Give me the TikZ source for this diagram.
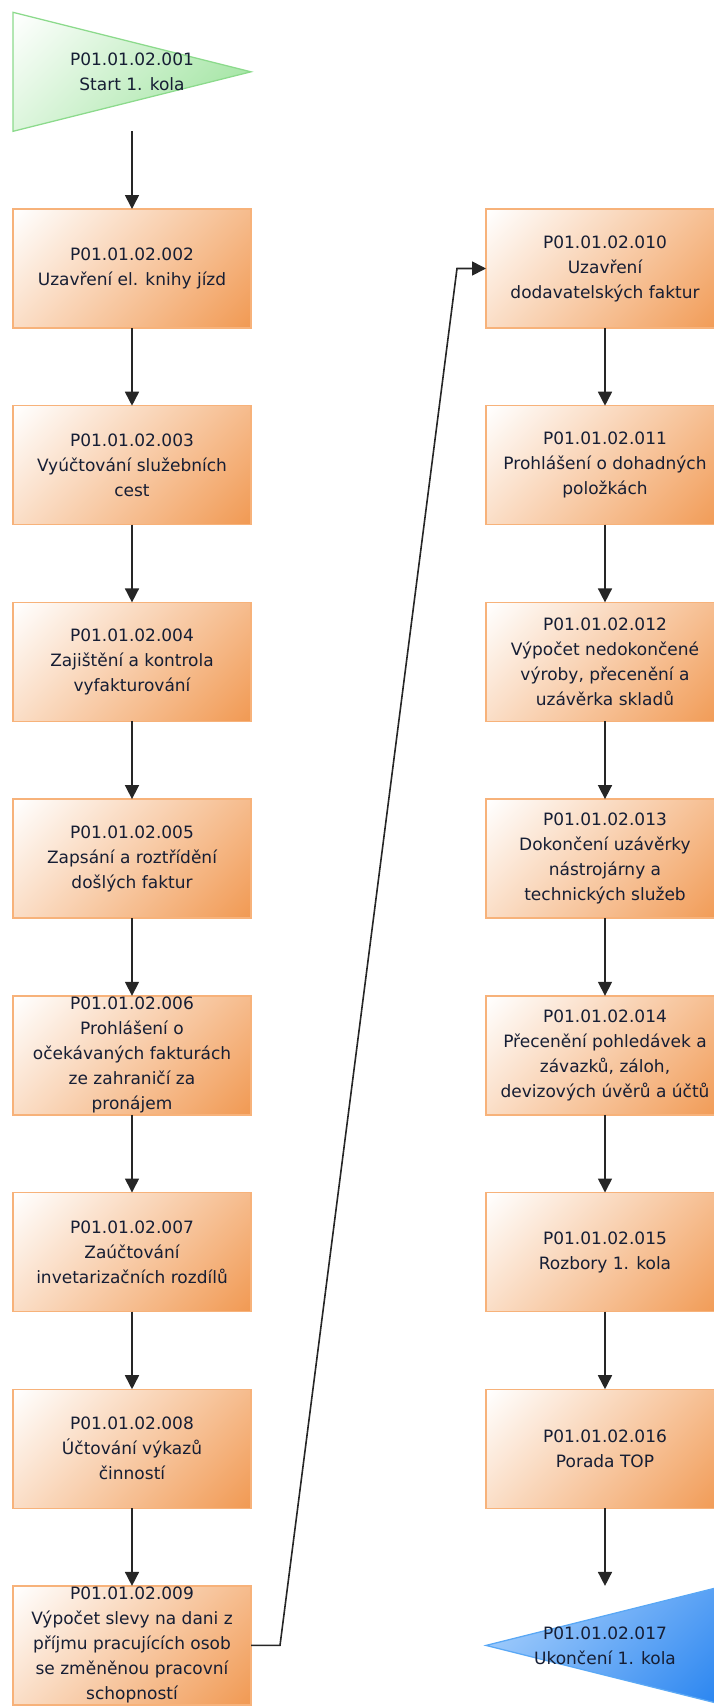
\documentclass[tikz,border=0pt]{standalone}
\usepackage{fontspec}
\setmainfont{DejaVu Sans}
\usetikzlibrary{arrows.meta}

\definecolor{txt}{RGB}{22,30,52}
\definecolor{orfill}{RGB}{241,154,84}
\definecolor{orline}{RGB}{247,178,122}
\definecolor{grfill}{RGB}{150,225,150}
\definecolor{grline}{RGB}{140,218,140}
\definecolor{bllight}{RGB}{178,214,253}
\definecolor{blfill}{RGB}{40,132,240}
\definecolor{blline}{RGB}{90,168,245}

% diagonal gradients, light corner at the top left
\pgfdeclareverticalshading{taskshade}{100bp}{color(0bp)=(orfill); color(15bp)=(orfill); color(85bp)=(white); color(100bp)=(white)}
\pgfdeclareverticalshading{startshade}{100bp}{color(0bp)=(grfill); color(15bp)=(grfill); color(85bp)=(white); color(100bp)=(white)}
\pgfdeclareverticalshading{endshade}{100bp}{color(0bp)=(blfill); color(15bp)=(blfill); color(85bp)=(bllight); color(100bp)=(bllight)}

\tikzset{
  slot/.style={minimum width=238pt, minimum height=119pt, inner sep=0pt, outer sep=0pt},
  task/.style={slot, draw=orline, line width=1.4pt, shade, shading=taskshade, shading angle=45},
  lbl/.style={text=txt, align=center, inner sep=0pt, font=\fontsize{17}{25}\selectfont},
  flow/.style={draw=black!85, line width=1.6pt, -{Triangle[length=14pt,width=14pt]}},
  startfill/.style={shading=startshade, shading angle=45},
  endfill/.style={shading=endshade, shading angle=45},
}

\begin{document}
\begin{tikzpicture}[x=1pt,y=-1pt]
\useasboundingbox (0,0) rectangle (714,1706);

% start of the round
\node[slot] (p001) at (132,71.8) {};
\shade[startfill] (p001.north west) -- (p001.east) -- (p001.south west) -- cycle;
\draw[grline, line width=1.3pt, line join=miter] (p001.north west) -- (p001.east) -- (p001.south west) -- cycle;
\node[lbl] at (p001) {P01.01.02.001\\Start 1. kola};

% left column
\node[task] (p002) at (132,268.5) {};
\node[lbl] at (p002) {P01.01.02.002\\Uzavření el. knihy jízd};
\node[task] (p003) at (132,465.2) {};
\node[lbl] at (p003) {P01.01.02.003\\Vyúčtování služebních\\cest};
\node[task] (p004) at (132,661.9) {};
\node[lbl] at (p004) {P01.01.02.004\\Zajištění a kontrola\\vyfakturování};
\node[task] (p005) at (132,858.6) {};
\node[lbl] at (p005) {P01.01.02.005\\Zapsání a roztřídění\\došlých faktur};
\node[task] (p006) at (132,1055.3) {};
\node[lbl] at (p006) {P01.01.02.006\\Prohlášení o\\očekávaných fakturách\\ze zahraničí za\\pronájem};
\node[task] (p007) at (132,1252.0) {};
\node[lbl] at (p007) {P01.01.02.007\\Zaúčtování\\invetarizačních rozdílů};
\node[task] (p008) at (132,1448.7) {};
\node[lbl] at (p008) {P01.01.02.008\\Účtování výkazů\\činností};
\node[task] (p009) at (132,1645.4) {};
\node[lbl] at (p009) {P01.01.02.009\\Výpočet slevy na dani z\\příjmu pracujících osob\\se změněnou pracovní\\schopností};

% right column
\node[task] (p010) at (605,268.5) {};
\node[lbl] at (p010) {P01.01.02.010\\Uzavření\\dodavatelských faktur};
\node[task] (p011) at (605,465.2) {};
\node[lbl] at (p011) {P01.01.02.011\\Prohlášení o dohadných\\položkách};
\node[task] (p012) at (605,661.9) {};
\node[lbl] at (p012) {P01.01.02.012\\Výpočet nedokončené\\výroby, přecenění a\\uzávěrka skladů};
\node[task] (p013) at (605,858.6) {};
\node[lbl] at (p013) {P01.01.02.013\\Dokončení uzávěrky\\nástrojárny a\\technických služeb};
\node[task] (p014) at (605,1055.3) {};
\node[lbl] at (p014) {P01.01.02.014\\Přecenění pohledávek a\\závazků, záloh,\\devizových úvěrů a účtů};
\node[task] (p015) at (605,1252.0) {};
\node[lbl] at (p015) {P01.01.02.015\\Rozbory 1. kola};
\node[task] (p016) at (605,1448.7) {};
\node[lbl] at (p016) {P01.01.02.016\\Porada TOP};

% end of the round
\node[slot] (p017) at (605,1645.4) {};
\shade[endfill] (p017.west) -- (p017.north east) -- (p017.south east) -- cycle;
\draw[blline, line width=1.3pt, line join=miter] (p017.west) -- (p017.north east) -- (p017.south east) -- cycle;
\node[lbl] at (p017) {P01.01.02.017\\Ukončení 1. kola};

% connectors
\draw[flow] (p001.south) -- (p002.north);
\draw[flow] (p002.south) -- (p003.north);
\draw[flow] (p003.south) -- (p004.north);
\draw[flow] (p004.south) -- (p005.north);
\draw[flow] (p005.south) -- (p006.north);
\draw[flow] (p006.south) -- (p007.north);
\draw[flow] (p007.south) -- (p008.north);
\draw[flow] (p008.south) -- (p009.north);
\coordinate (bendlow) at (280,1645.4);
\coordinate (bendhigh) at (457,268.5);
\draw[flow] (p009.east) -- (bendlow) -- (bendhigh) -- (p010.west);
\draw[flow] (p010.south) -- (p011.north);
\draw[flow] (p011.south) -- (p012.north);
\draw[flow] (p012.south) -- (p013.north);
\draw[flow] (p013.south) -- (p014.north);
\draw[flow] (p014.south) -- (p015.north);
\draw[flow] (p015.south) -- (p016.north);
\draw[flow] (p016.south) -- (p017.north);
\end{tikzpicture}
\end{document}
